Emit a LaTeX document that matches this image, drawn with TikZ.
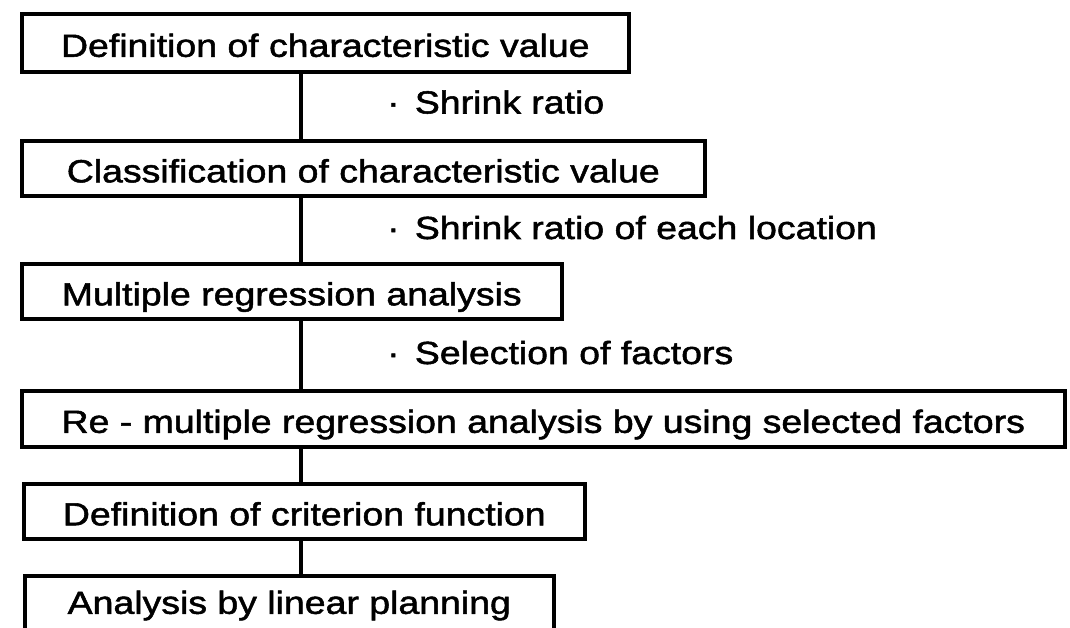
\documentclass[tikz,border=0pt]{standalone}
\usepackage{fontspec}
\setmainfont{Liberation Sans}[FakeStretch=1.17,FakeBold=1.6]
\begin{document}
\begin{tikzpicture}[x=1pt,y=-1pt,
  stepbox/.style={draw=black, line width=3.6pt, anchor=north west, inner sep=0pt,
    text height=28pt, text depth=0pt, align=center},
  conn/.style={draw=black, line width=3.2pt},
  note/.style={anchor=base west, inner sep=0pt}]
\useasboundingbox[fill=white] (0,0) rectangle (1070,628);
\fontsize{32}{38}\selectfont
\node[stepbox, minimum width=607pt, minimum height=58pt] (b1) at (20,12) {Definition of characteristic value};
\node[stepbox, minimum width=683pt, minimum height=55pt] (b2) at (20,139) {Classification of characteristic value};
\node[stepbox, minimum width=540pt, minimum height=55pt] (b3) at (20,262) {Multiple regression analysis};
\node[stepbox, minimum width=1043pt, minimum height=56pt] (b4) at (20,389) {Re - multiple regression analysis by using selected factors};
\node[stepbox, minimum width=561pt, minimum height=55pt] (b5) at (22,482) {Definition of criterion function};
\node[stepbox, minimum width=529pt, minimum height=60pt, text height=16pt] (b6) at (23,574) {Analysis by linear planning};
\coordinate (lx) at (301,0);
\draw[conn] (b1.south -| lx) -- (b2.north -| lx);
\draw[conn] (b2.south -| lx) -- (b3.north -| lx);
\draw[conn] (b3.south -| lx) -- (b4.north -| lx);
\draw[conn] (b4.south -| lx) -- (b5.north -| lx);
\draw[conn] (b5.south -| lx) -- (b6.north -| lx);
\node[note] (l1) at (387,113.5) {·\hspace{0.15em} Shrink ratio};
\node[note] (l2) at (387,239) {·\hspace{0.15em} Shrink ratio of each location};
\node[note] (l3) at (387,364) {·\hspace{0.15em} Selection of factors};
\end{tikzpicture}
\end{document}
